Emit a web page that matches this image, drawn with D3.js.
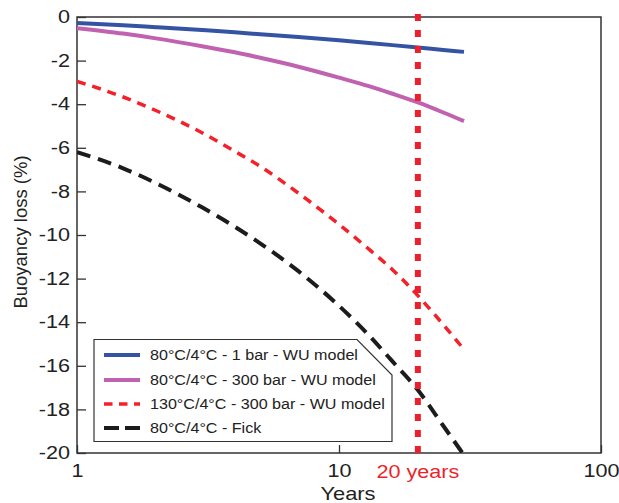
<!DOCTYPE html>
<html>
<head>
<meta charset="utf-8">
<script src="https://cdn.jsdelivr.net/npm/d3@7/dist/d3.min.js"></script>
<style>
  html, body { margin: 0; padding: 0; background: #fff; }
  svg { display: block; font-family: "Liberation Sans", Arial, Helvetica, sans-serif; }
</style>
</head>
<body>
<svg id="chart" width="619" height="503"></svg>
<script>
// ---------- data ----------
const years = [1, 1.5, 2, 3, 4, 5, 7, 10, 13, 16, 20, 25, 30];
const blueWU1bar   = [-0.28, -0.38, -0.47, -0.60, -0.70, -0.79, -0.92, -1.07, -1.19, -1.29, -1.40, -1.51, -1.60];
const pinkWU300bar = [-0.51, -0.76, -0.98, -1.34, -1.62, -1.87, -2.28, -2.78, -3.17, -3.52, -3.92, -4.38, -4.78];
const redWU130C    = [-2.95, -3.67, -4.29, -5.31, -6.16, -6.85, -8.08, -9.51, -10.65, -11.59, -12.78, -14.11, -15.25];
const blackFick    = [-6.20, -6.94, -7.62, -8.73, -9.62, -10.38, -11.66, -13.25, -14.60, -15.80, -17.11, -18.75, -20.10];
const seriesNames = [
  "80°C/4°C - 1 bar - WU model",
  "80°C/4°C - 300 bar - WU model",
  "130°C/4°C - 300 bar - WU model",
  "80°C/4°C - Fick"
];
const seriesValues = [blueWU1bar, pinkWU300bar, redWU130C, blackFick];
const xTicks = [1, 10, 100];
const yTicks = [0, -2, -4, -6, -8, -10, -12, -14, -16, -18, -20];
const markerYear = 20;
const markerLabel = "20 years";
const xTitle = "Years";
const yTitle = "Buoyancy loss (%)";

// ---------- styles ----------
const styles = [
  { color: "#3553a3", width: 4, dash: null, legendDash: null },
  { color: "#c162b0", width: 4, dash: null, legendDash: null },
  { color: "#f4202a", width: 3.5, dash: "9,7", legendDash: "8.5,6.5" },
  { color: "#1c1c1c", width: 4, dash: "14,8", legendDash: "15,6" }
];
const SX = 1.15; // horizontal text stretch seen in the reference

function stretch(sel, k) {
  sel.each(function () {
    const w = this.getComputedTextLength();
    d3.select(this).attr("textLength", w * k).attr("lengthAdjust", "spacingAndGlyphs");
  });
}

const svg = d3.select("#chart");
const L = 77, R = 601, T = 17, B = 453;
const x = d3.scaleLog().domain([1, 100]).range([L, R]);
const y = d3.scaleLinear().domain([-20, 0]).range([B, T]);

svg.append("defs").append("clipPath").attr("id", "clip")
  .append("rect").attr("x", L).attr("y", T).attr("width", R - L).attr("height", B - T);

const axisColor = "#333";

// x axis (ticks inward)
const xAxis = svg.append("g").attr("transform", `translate(0,${B})`)
  .call(d3.axisBottom(x).tickValues(xTicks).tickFormat(d => String(d)).tickSizeInner(-8).tickSizeOuter(0));
xAxis.select(".domain").remove();
xAxis.selectAll("line").attr("stroke", axisColor).attr("stroke-width", 1.3);
xAxis.selectAll("text").attr("fill", "#222").style("font-size", "18px").attr("dy", null).attr("y", 24);
stretch(xAxis.selectAll("text"), 1.2);

// y axis (ticks inward)
const yAxis = svg.append("g").attr("transform", `translate(${L},0)`)
  .call(d3.axisLeft(y).tickValues(yTicks).tickFormat(d => String(d)).tickSizeInner(-9).tickSizeOuter(0));
yAxis.select(".domain").remove();
yAxis.selectAll("line").attr("stroke", axisColor).attr("stroke-width", 1.3);
yAxis.selectAll("text").attr("fill", "#222").style("font-size", "18px").attr("x", -7);
stretch(yAxis.selectAll("text"), 1.2);

// frame
svg.append("rect").attr("x", L).attr("y", T).attr("width", R - L).attr("height", B - T)
  .attr("fill", "none").attr("stroke", axisColor).attr("stroke-width", 1.5);

// series lines
const line = d3.line().x((d, i) => x(years[i])).y(d => y(d)).curve(d3.curveMonotoneX);
const plot = svg.append("g").attr("clip-path", "url(#clip)");
seriesValues.forEach((vals, i) => {
  const s = styles[i];
  plot.append("path").datum(vals)
    .attr("d", line)
    .attr("fill", "none")
    .attr("stroke", s.color)
    .attr("stroke-width", s.width)
    .attr("stroke-dasharray", s.dash)
    .attr("stroke-linecap", "butt");
});

// 20-year marker
svg.append("line")
  .attr("x1", x(markerYear)).attr("x2", x(markerYear))
  .attr("y1", T - 3).attr("y2", B)
  .attr("stroke", "#ee1f2c").attr("stroke-width", 6)
  .attr("stroke-dasharray", "7,9");

const mk = svg.append("text").attr("x", x(markerYear)).attr("y", 478)
  .attr("text-anchor", "middle").attr("fill", "#ee1f2c")
  .style("font-size", "18px").text(markerLabel);
stretch(mk, 1.2);

// axis titles
const xt = svg.append("text").attr("x", 348).attr("y", 500).attr("text-anchor", "middle")
  .attr("fill", "#222").style("font-size", "19px").text(xTitle);
stretch(xt, SX);
svg.append("text").attr("transform", "translate(27,232) rotate(-90)").attr("text-anchor", "middle")
  .attr("fill", "#222").style("font-size", "18.5px").text(yTitle);

// legend with clipped corner
const lg = svg.append("g");
lg.append("path")
  .attr("d", "M94,339.5 L357,339.5 L392,375 L392,441.5 L94,441.5 Z")
  .attr("fill", "#fff").attr("stroke", "#333").attr("stroke-width", 1.2);
const rowY = [355, 380, 404, 428];
seriesNames.forEach((name, i) => {
  const s = styles[i];
  lg.append("line").attr("x1", 104).attr("x2", 140).attr("y1", rowY[i]).attr("y2", rowY[i])
    .attr("stroke", s.color).attr("stroke-width", s.width)
    .attr("stroke-dasharray", s.legendDash);
  const t = lg.append("text").attr("x", 150).attr("y", rowY[i] + 5)
    .attr("fill", "#222").style("font-size", "14px").text(name);
  stretch(t, SX);
});
</script>
</body>
</html>
